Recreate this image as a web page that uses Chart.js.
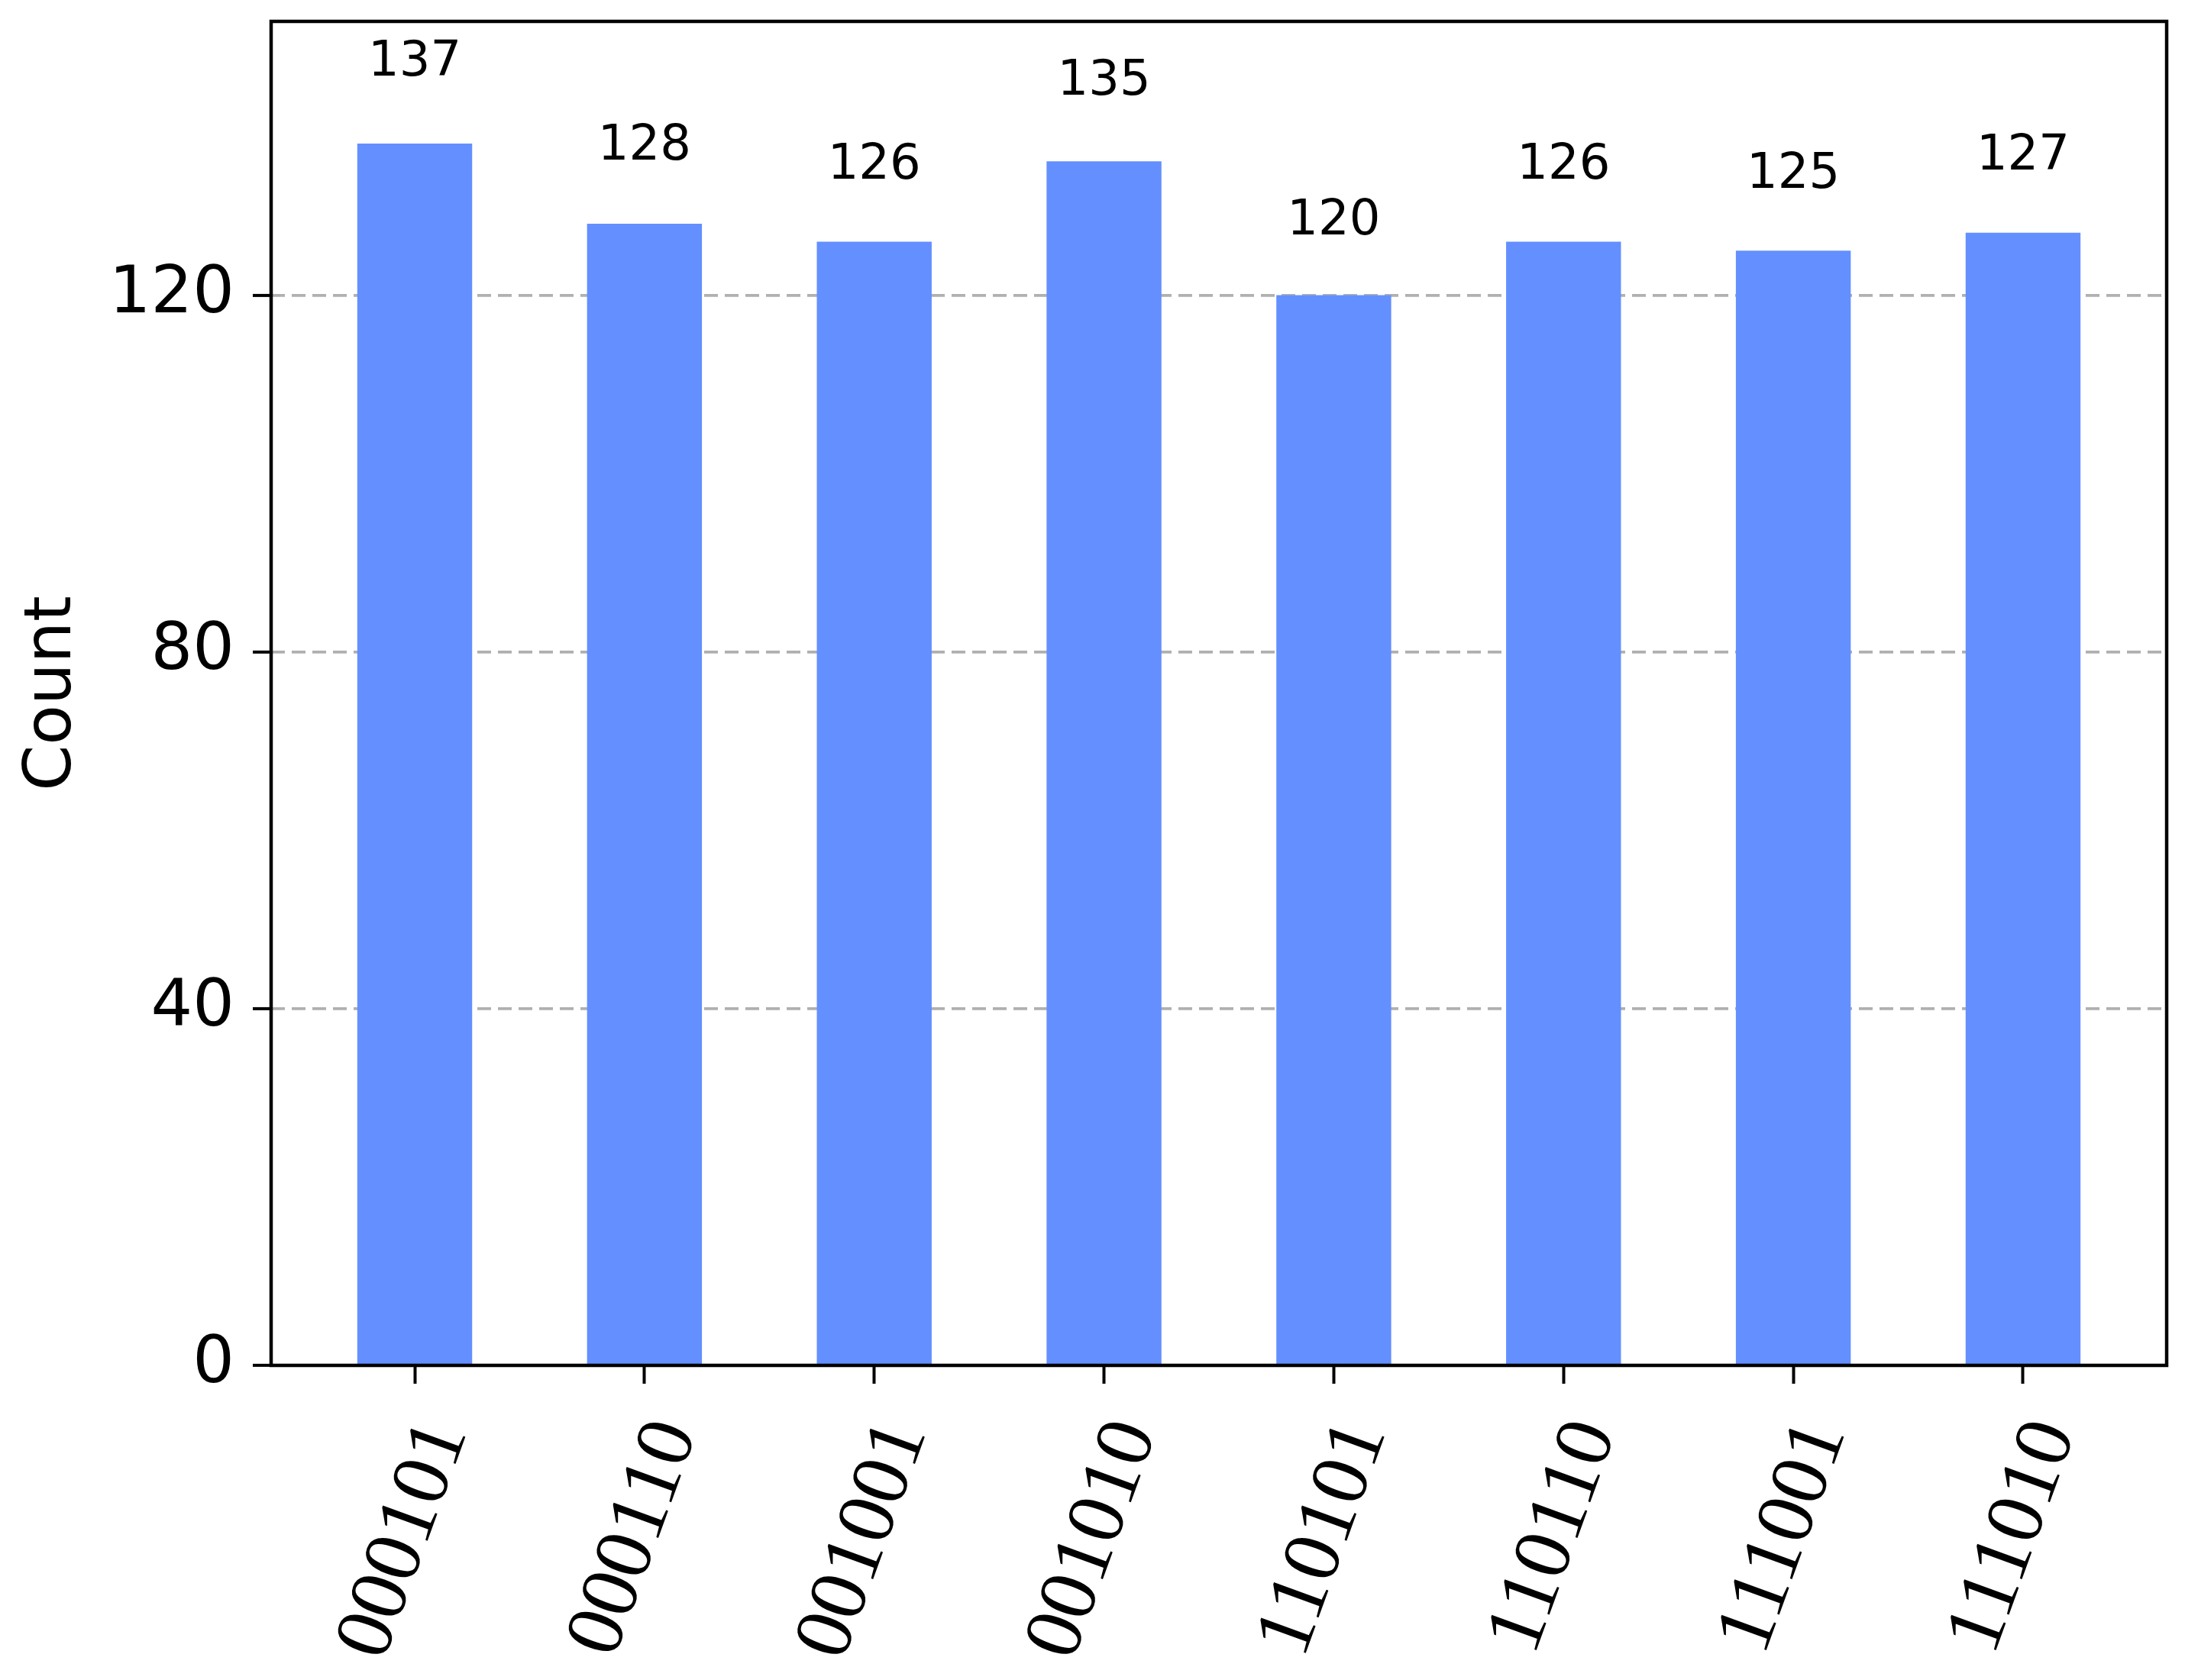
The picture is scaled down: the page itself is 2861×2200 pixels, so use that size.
<!DOCTYPE html>
<html>
<head>
<meta charset="utf-8">
<script src="https://cdn.jsdelivr.net/npm/chart.js@4.4.1/dist/chart.umd.min.js"></script>
<style>
  html, body { margin: 0; padding: 0; background: #ffffff; }
  #wrap { width: 2861px; height: 2200px; }
</style>
</head>
<body>
<div id="wrap"><canvas id="c" width="2861" height="2200"></canvas></div>
<script>
// ---- data ----
const categories = ['000101', '000110', '001001', '001010', '110101', '110110', '111001', '111010'];
const counts = [137, 128, 126, 135, 120, 126, 125, 127];
const yTickValues = [0, 40, 80, 120];
const yAxisTitle = 'Count';

const yMax = Math.max(...counts) * 1.1;

const valueLabelPlugin = {
  id: 'valueLabels',
  afterDatasetsDraw(chart) {
    const ctx = chart.ctx;
    const meta = chart.getDatasetMeta(0);
    const yScale = chart.scales.y;
    ctx.save();
    ctx.font = '64px "DejaVu Sans"';
    ctx.fillStyle = '#000000';
    ctx.textAlign = 'center';
    ctx.textBaseline = 'alphabetic';
    meta.data.forEach((bar, i) => {
      const v = counts[i];
      ctx.fillText(String(v), bar.x, yScale.getPixelForValue(v * 1.05) - 9);
    });
    ctx.restore();
  }
};

const framePlugin = {
  id: 'frame',
  afterDatasetsDraw(chart) {
    const a = chart.chartArea;
    const ctx = chart.ctx;
    ctx.save();
    ctx.strokeStyle = '#000000';
    ctx.lineWidth = 4.5;
    ctx.setLineDash([]);
    ctx.strokeRect(a.left, a.top, a.right - a.left, a.bottom - a.top);
    ctx.restore();
  }
};

new Chart(document.getElementById('c'), {
  type: 'bar',
  data: {
    datasets: [{
      data: counts.map((v, i) => ({ x: i, y: v })),
      backgroundColor: '#648fff',
      borderWidth: 0,
      barPercentage: 0.5,
      categoryPercentage: 1.0
    }]
  },
  options: {
    responsive: false,
    devicePixelRatio: 1,
    animation: false,
    layout: { padding: { top: 28, right: 24, left: 0, bottom: 0 } },
    plugins: { legend: { display: false }, tooltip: { enabled: false } },
    scales: {
      x: {
        type: 'linear',
        offset: false,
        min: -0.625,
        max: categories.length - 1 + 0.625,
        afterBuildTicks: (s) => { s.ticks = categories.map((_, i) => ({ value: i })); },
        afterFit: (s) => { s.height = 412; s.paddingLeft = 0; s.paddingRight = 0; },
        grid: {
          offset: false,
          drawOnChartArea: false,
          drawTicks: true,
          tickLength: 24,
          tickWidth: 4,
          tickColor: '#000000',
          tickBorderDash: []
        },
        border: { display: false },
        ticks: {
          autoSkip: false,
          minRotation: 70,
          maxRotation: 70,
          padding: 32,
          labelOffset: 42,
          color: '#000000',
          font: { family: '"Liberation Serif"', size: 107 },
          callback: (value) => categories[value]
        }
      },
      y: {
        type: 'linear',
        min: 0,
        max: yMax,
        afterBuildTicks: (s) => { s.ticks = yTickValues.map(v => ({ value: v })); },
        afterFit: (s) => { s.width = 355; s.paddingTop = 0; s.paddingBottom = 0; },
        grid: {
          color: '#b0b0b0',
          lineWidth: 3.8,
          drawTicks: true,
          tickLength: 24,
          tickWidth: 4,
          tickColor: '#000000',
          tickBorderDash: []
        },
        border: { display: false, dash: [18, 9] },
        ticks: {
          padding: 24,
          color: '#000000',
          font: { family: '"DejaVu Sans"', size: 86 }
        },
        title: {
          display: true,
          text: yAxisTitle,
          color: '#000000',
          font: { family: '"DejaVu Sans"', size: 86 },
          padding: { top: 18, bottom: 0 }
        }
      }
    }
  },
  plugins: [valueLabelPlugin, framePlugin]
});
</script>
</body>
</html>
